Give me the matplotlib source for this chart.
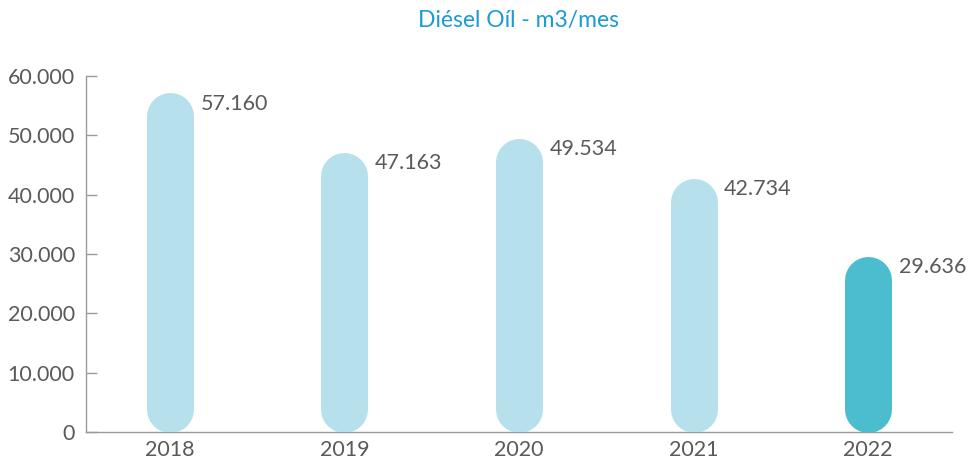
import matplotlib.pyplot as plt
from matplotlib.ticker import FuncFormatter

# datos
years = ["2018", "2019", "2020", "2021", "2022"]
values = [57160, 47163, 49534, 42734, 29636]
value_labels = ["57.160", "47.163", "49.534", "42.734", "29.636"]
bar_colors = ["#b5e0ec", "#b5e0ec", "#b5e0ec", "#b5e0ec", "#4bbdce"]

plt.rcParams['font.family'] = ['Lato', 'DejaVu Sans']

fig = plt.figure(figsize=(9.68, 4.63), dpi=100)
ax = fig.add_axes([86 / 968, 1 - 432 / 463, (952 - 86) / 968, (432 - 76) / 463])

ax.set_xlim(-0.48, len(years) - 1 + 0.48)
ax.set_ylim(0, 60000)

# barras redondeadas: lineas gruesas con extremos redondos
bar_px = 47
dpi = fig.dpi
px_per_unit = ax.transData.transform((0, 1))[1] - ax.transData.transform((0, 0))[1]
r = (bar_px / 2) / px_per_unit
for i, v in enumerate(values):
    ax.plot([i, i], [r, v - r], color=bar_colors[i], linewidth=bar_px * 72 / dpi,
            solid_capstyle='round', zorder=3)
    ax.annotate(value_labels[i], (i, v), xytext=((bar_px / 2 + 7) * 72 / dpi, -11 * 72 / dpi),
                textcoords='offset points', ha='left', va='center',
                fontsize=15.5, color='#5a5a5a')

ax.set_xticks(range(len(years)))
ax.set_xticklabels(years)
ax.set_yticks(range(0, 60001, 10000))
ax.yaxis.set_major_formatter(FuncFormatter(lambda v, p: f"{int(v):,}".replace(",", ".")))

for s in ["top", "right"]:
    ax.spines[s].set_visible(False)
for s in ["left", "bottom"]:
    ax.spines[s].set_color("#9a9a9a")
    ax.spines[s].set_linewidth(1)

ax.tick_params(axis='y', direction='in', length=8, width=1, color='#9a9a9a',
               labelsize=15.5, labelcolor='#5a5a5a', pad=8)
ax.tick_params(axis='x', length=0, labelsize=15.5, labelcolor='#5a5a5a', pad=6)

fig.text((86 + 952) / 2 / 968, 1 - 20 / 463, "Diésel Oíl - m3/mes", ha='center', va='center',
         fontsize=16.5, color='#1a9ad6')

fig.savefig("out.png", dpi=100)
